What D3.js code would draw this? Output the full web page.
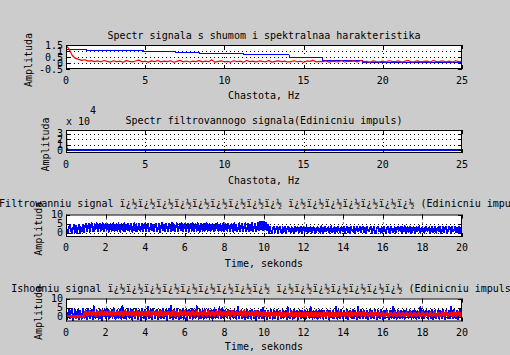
<!DOCTYPE html>
<html><head><meta charset="utf-8">
<script src="https://cdn.jsdelivr.net/npm/d3@7/dist/d3.min.js"></script>
<style>
html,body{margin:0;padding:0;background:#cccccc;}
svg{display:block;}
text{font-family:"DejaVu Sans Mono",monospace;font-size:10px;fill:#000;}
</style></head>
<body>
<svg id="c" width="510" height="355"></svg>
<script>
// ---------- DATA ----------
const titles = [
  "Spectr signala s shumom i spektralnaa harakteristika",
  "Spectr filtrovannogo signala(Edinicniu impuls)",
  "Filtrowanniu signal " + "ï¿½".repeat(9) + " " + "ï¿½".repeat(7) + " (Edinicniu impuls)",
  "Ishodniu signal " + "ï¿½".repeat(9) + " " + "ï¿½".repeat(7) + " (Edinicniu impuls)"
];
const xLabels = ["Chastota, Hz", "Chastota, Hz", "Time, sekonds", "Time, sekonds"];
const yLabel = "Amplituda";

const freqTicks = [0, 5, 10, 15, 20, 25];
const timeTicks = [0, 2, 4, 6, 8, 10, 12, 14, 16, 18, 20];
const yTicks1 = [-0.5, 0, 0.5, 1, 1.5];
const yTicks2 = [0, 1, 2, 3];
const yTicks34 = [0, 5, 10];

// spectral characteristic (blue, step) of plot 1
const hFreq = [0, 1.3, 4.9, 6.9, 8.4, 11.2, 14.1, 16.2, 18.7, 21.9, 25];
const hAmp  = [1.14, 1.02, 0.96, 0.89, 0.79, 0.67, 0.42, 0.21, 0.04, 0.01, 0.01];

// noisy spectrum (red) of plot 1, step 0.2 Hz
const specNoisy = [
 1.48,1.15,0.62,0.38,0.30,0.22,0.27,0.16,0.20,0.12,
 0.18,0.10,0.21,0.14,0.08,0.19,0.11,0.16,0.06,0.20,
 0.13,0.09,0.17,0.24,0.10,0.15,0.07,0.18,0.12,0.21,
 0.09,0.16,0.11,0.19,0.06,0.14,0.22,0.10,0.17,0.08,
 0.15,0.12,0.20,0.09,0.16,0.11,0.26,0.07,0.14,0.18,
 0.10,0.13,0.08,0.19,0.12,0.16,0.06,0.21,0.11,0.15,
 0.09,0.17,0.13,0.10,0.20,0.07,0.14,0.18,0.11,0.16,
 0.08,0.12,0.19,0.10,0.15,0.06,0.17,0.13,0.22,0.09,
 0.14,0.11,0.18,0.07,0.16,0.12,0.10,0.19,0.08,0.15,
 0.13,0.17,0.09,0.21,0.11,0.14,0.06,0.18,0.12,0.10,
 0.16,0.08,0.19,0.13,0.11,0.17,0.07,0.15,0.20,0.10,
 0.12,0.18,0.09,0.14,0.16,0.08,0.21,0.11,0.13,0.17,
 0.10,0.15,0.08,0.19,0.12,0.14];

// filtered spectrum (x 10^4) of plot 2
const spec2Freq = [0, 0.03, 0.08, 0.2, 0.5, 1, 2, 5, 10, 15, 20, 25];
const spec2Amp  = [3.6, 0.45, 0.12, 0.05, 0.02, 0.01, 0.005, 0.003, 0.002, 0.002, 0.002, 0.002];

// filtered signal (plot 3), step 0.05 s
const sigFilt = [
 4.3,0.2,-0.4,3.1,4.5,1.0,-0.6,2.4,4.1,0.3,3.6,-0.2,1.8,4.4,-0.5,2.9,0.6,4.2,-0.1,3.3,
 5.0,0.7,2.6,4.8,0.4,3.9,5.3,1.2,0.5,4.6,2.1,5.1,0.6,3.4,4.9,0.8,1.9,5.2,0.5,3.7,
 4.7,1.1,5.0,0.4,2.8,4.9,0.7,3.5,5.3,0.6,1.6,4.8,0.9,5.1,2.3,0.5,4.6,3.0,0.8,5.2,
 0.6,4.4,1.5,5.0,0.7,3.8,4.9,0.4,2.5,5.3,1.0,4.7,0.6,3.2,5.0,0.9,2.0,4.8,0.5,4.1,
 5.2,0.8,3.6,4.7,0.5,2.2,5.1,1.2,4.5,0.6,3.9,5.0,0.7,1.7,4.9,0.4,3.1,5.2,1.0,4.4,
 0.6,5.0,2.7,0.9,4.8,3.4,0.5,5.3,1.4,4.6,0.8,3.0,5.1,0.6,2.4,4.9,1.1,5.2,0.5,3.8,
 4.7,0.7,2.1,5.0,0.4,3.6,4.8,1.0,5.2,0.6,2.9,4.5,0.8,5.1,1.6,0.5,4.9,3.3,0.7,5.0,
 0.9,4.4,5.2,0.6,2.6,4.8,0.5,3.9,5.0,1.2,0.7,4.6,2.3,5.3,0.6,3.5,4.9,0.8,1.8,5.1,
 0.5,4.7,3.1,0.9,5.0,2.0,0.6,4.8,3.7,0.4,5.2,1.3,4.5,0.7,2.8,5.1,0.6,4.0,5.0,0.8,
 3.4,5.2,0.5,2.5,4.9,0.7,4.4,1.1,5.3,0.6,3.0,5.0,0.9,2.2,5.6,1.4,6.2,2.0,5.8,1.2,
 6.0,1.6,5.4,1.0,4.3,-0.2,3.1,0.8,-0.4,2.6,3.3,0.1,1.7,3.0,-0.3,2.2,3.4,0.4,-0.1,2.9,
 0.3,3.2,-0.4,1.5,3.3,0.6,2.4,-0.2,3.0,1.1,-0.3,3.4,0.5,2.0,3.1,-0.1,0.9,3.3,-0.4,2.6,
 3.0,0.2,1.8,3.4,-0.3,2.7,0.6,3.2,-0.1,1.3,3.3,0.4,-0.4,2.5,3.1,0.7,2.0,-0.2,3.4,0.9,
 -0.3,2.8,3.2,0.5,1.6,3.0,-0.2,2.3,3.4,0.1,0.8,3.1,-0.4,2.7,0.4,3.3,1.4,-0.1,3.0,2.1,
 0.6,3.4,-0.3,1.9,3.1,0.3,2.6,-0.2,3.3,1.0,0.4,3.0,-0.4,2.2,3.2,0.7,1.5,3.4,-0.1,2.8,
 3.1,0.2,2.4,-0.3,3.3,1.2,0.5,2.9,3.0,-0.2,1.7,3.4,0.4,-0.4,2.6,3.2,0.8,2.0,-0.1,3.0,
 0.3,3.3,1.6,-0.2,2.7,3.1,0.6,-0.4,3.4,2.2,0.1,1.3,3.0,-0.3,2.5,3.2,0.7,1.9,3.3,-0.1,
 2.9,0.5,3.4,-0.2,1.4,3.1,0.2,2.6,3.3,-0.4,0.9,3.0,2.1,-0.1,3.2,0.6,2.4,3.4,-0.3,1.8,
 3.1,0.4,-0.2,2.7,3.3,0.8,1.5,3.0,-0.4,2.3,3.2,0.1,0.7,3.4,-0.1,2.0,2.9,0.5,3.3,-0.3,
 1.6,3.1,0.3,2.5,3.4,-0.2,0.9,3.0,2.2,-0.4,3.2,0.6,1.3,3.3,-0.1,2.8,0.4,3.1,-0.3,2.4,
 3.2];

// noisy original signal (blue, plot 4), step 0.05 s
const sigNoisy = [
 4.2,-1.1,1.6,3.8,-0.7,2.9,4.5,-1.6,0.4,3.9,-0.9,2.2,4.1,-1.3,3.3,0.8,-1.0,4.4,1.9,-0.5,
 3.6,-1.2,4.6,0.9,-0.8,2.7,4.0,-1.4,5.9,0.2,-0.6,3.7,1.3,-1.0,4.3,2.4,-1.9,3.9,0.6,4.2,
 -0.9,2.0,4.4,-1.1,3.2,0.5,3.6,-0.7,4.8,1.5,-1.4,2.8,4.0,-0.8,0.7,4.2,-1.2,6.2,1.8,-0.9,
 3.8,-1.0,2.5,4.5,-0.6,1.1,3.9,-1.5,4.1,0.3,-0.8,4.6,2.1,-1.3,3.7,0.9,-2.0,4.3,1.4,-0.9,
 4.0,-1.1,2.6,5.7,-0.7,0.6,3.9,-1.2,4.4,1.7,-0.9,3.1,4.1,-1.4,0.2,3.8,-0.8,2.3,4.5,-1.0,
 1.0,4.0,-1.6,3.4,4.2,-0.7,6.0,0.5,-1.1,3.9,2.0,-0.9,4.3,1.2,-1.3,3.7,-0.8,2.9,4.6,-1.0,
 0.7,4.1,-1.8,3.0,4.0,-0.9,1.6,4.4,-1.1,3.8,0.4,-0.7,5.8,2.5,-1.2,4.2,-0.9,1.0,3.9,-1.4,
 4.5,0.8,-0.8,3.3,4.1,-1.0,2.2,4.0,-1.5,0.6,4.7,-0.9,3.6,1.9,-0.6,5.2,0.3,-0.8,4.9,2.7,
 -1.2,3.6,0.9,-0.7,3.9,2.0,-1.0,3.5,0.4,-0.6,3.8,1.5,-1.1,3.4,5.5,-0.8,2.4,3.7,-0.9,0.7,
 3.6,-1.3,2.1,3.9,-0.7,0.5,3.5,-1.0,3.8,1.6,-0.6,3.6,-1.7,2.6,3.4,-0.8,0.3,3.7,-0.9,5.1,
 -0.6,3.5,1.8,-1.1,3.5,0.6,-0.7,3.9,2.3,-1.0,3.6,-0.8,1.1,3.8,-1.4,2.7,3.4,-0.9,0.4,3.7,
 -0.6,2.0,3.5,-1.2,5.4,0.8,-0.8,3.6,1.5,-1.0,3.9,-0.7,2.4,3.5,-1.5,0.5,3.8,-0.9,3.4,1.7,
 -0.8,3.7,-1.1,2.2,3.6,0.3,-0.6,5.7,1.2,-1.0,3.5,-0.9,2.8,3.8,-1.3,0.7,3.6,-0.7,3.9,1.9,
 -1.0,3.4,0.6,-0.8,3.7,2.5,-1.8,3.5,0.9,-0.6,3.8,-0.9,1.4,5.5,-1.1,3.6,2.1,-0.7,3.9,0.2,
 -1.0,3.4,1.6,-0.8,3.7,-1.2,2.6,3.5,0.5,-0.6,3.8,-0.9,3.6,1.1,-1.4,5.3,0.4,-0.7,3.9,2.3,
 -1.0,3.6,0.8,-0.8,3.5,-1.1,1.9,3.8,-0.7,3.4,0.3,-0.9,3.7,2.4,-1.2,3.6,0.6,-0.6,3.9,1.5,
 -1.0,3.5,-0.8,2.8,3.7,0.7,-1.3,3.4,1.8,-0.7,5.6,-0.9,3.6,0.4,-1.1,3.8,2.2,-0.8,3.5,1.0,
 -0.6,3.9,-1.4,2.5,3.6,0.2,-0.9,3.7,1.4,-1.0,3.5,-0.7,3.8,2.0,-1.2,3.4,0.6,-0.8,5.4,1.7,
 -1.0,3.6,-0.9,2.9,3.8,0.5,-1.1,3.5,1.3,-0.7,3.9,-1.5,2.3,3.6,-0.8,0.9,3.7,-1.0,3.4,2.1,
 -0.6,3.8,0.4,-1.2,3.6,1.8,-0.9,3.5,-0.7,5.3,2.6,-1.0,3.9,0.7,-0.8,3.4,-1.1,2.2,3.7,0.3,
 3.6];

// original signal (red, plot 4), step 0.1 s
const sigOrig = [
 0.3,0.0,0.4,0.1,0.3,-0.1,0.4,0.0,0.3,0.1,
 2.6,1.0,2.7,1.1,2.5,0.9,2.6,1.0,2.8,1.1,
 2.5,1.0,2.6,0.9,2.7,1.1,2.5,1.0,2.6,0.9,
 2.8,1.0,2.5,1.1,2.6,0.9,2.7,1.0,2.5,1.1,
 2.6,0.9,2.8,1.0,2.5,1.1,2.6,1.0,2.7,0.9,
 2.5,1.1,2.6,1.0,2.8,0.9,2.5,1.0,2.6,1.1,
 2.7,1.0,2.5,0.9,2.6,1.1,2.8,1.0,2.5,0.9,
 2.6,1.0,2.7,1.1,2.5,1.0,2.6,0.9,2.8,1.1,
 2.5,1.0,2.6,0.9,2.7,1.0,2.5,1.1,2.6,1.0,
 2.8,0.9,2.5,1.1,2.6,1.0,2.7,0.9,2.5,1.0,
 2.1,0.7,2.2,0.6,2.0,0.8,2.1,0.7,2.3,0.6,
 2.0,0.7,2.1,0.8,2.2,0.6,2.0,0.7,2.1,0.8,
 2.3,0.7,2.0,0.6,2.1,0.8,2.2,0.7,2.0,0.6,
 2.1,0.8,2.3,0.7,2.0,0.6,2.1,0.7,2.2,0.8,
 2.0,0.7,2.1,0.6,2.3,0.8,2.0,0.7,2.1,0.6,
 2.2,0.7,2.0,0.8,2.1,0.6,2.3,0.7,2.0,0.8,
 2.1,0.6,2.2,0.7,2.0,0.8,2.1,0.7,2.3,0.6,
 2.0,0.7,2.1,0.8,2.2,0.6,2.0,0.7,2.1,0.8,
 2.3,0.6,2.0,0.7,2.1,0.8,2.2,0.7,2.0,0.6,
 2.1,0.7,2.3,0.8,2.0,0.6,2.1,0.7,2.2,0.8,
 2.1];

// ---------- DRAW ----------
const svg = d3.select("#c");
const X0 = 66, X1 = 462;
const panels = [
  {y0:45,  y1:69,  xd:[0,25], yd:[-0.5,1.5], xt:freqTicks, yt:yTicks1, tY:35, xtY:80, xlY:95, ylX:28},
  {y0:130, y1:153, xd:[0,25], yd:[-0.55,3.7], xt:freqTicks, yt:yTicks2, tY:120, xtY:164, xlY:180, ylX:45},
  {y0:214.5, y1:237, xd:[0,20], yd:[-2.5,10], xt:timeTicks, yt:yTicks34, tY:203, xtY:247, xlY:263, ylX:38},
  {y0:298.5, y1:321.5, xd:[0,20], yd:[-2.5,10], xt:timeTicks, yt:yTicks34, tY:288, xtY:332, xlY:346, ylX:38}
];

panels.forEach((p, i) => {
  const x = d3.scaleLinear().domain(p.xd).range([X0, X1]);
  const y = d3.scaleLinear().domain(p.yd).range([p.y1, p.y0]);
  p.x = x; p.y = y;
  const g = svg.append("g");
  p.g = g;
  g.append("rect").attr("x", X0).attr("y", p.y0).attr("width", X1 - X0).attr("height", p.y1 - p.y0)
    .attr("fill", "#fff");
  const grid = g.append("g").attr("stroke", "#000").attr("stroke-width", 1).attr("stroke-dasharray", "1,3");
  p.xt.slice(1, -1).forEach(v => {
    grid.append("line").attr("x1", Math.round(x(v)) + 0.5).attr("x2", Math.round(x(v)) + 0.5)
      .attr("y1", p.y0).attr("y2", p.y1);
  });
  p.yt.forEach(v => {
    const yy = Math.round(y(v)) + 0.5;
    if (yy > p.y0 + 1 && yy < p.y1 - 1)
      grid.append("line").attr("x1", X0).attr("x2", X1).attr("y1", yy).attr("y2", yy);
  });
  p.xt.forEach(v => {
    g.append("text").attr("x", x(v)).attr("y", p.xtY).attr("text-anchor", "middle")
      .attr("dominant-baseline", "central").text(v);
  });
  p.yt.forEach(v => {
    g.append("text").attr("x", 63).attr("y", y(v)).attr("text-anchor", "end")
      .attr("dominant-baseline", "central").text(v);
  });
  svg.append("text").attr("x", 264).attr("y", p.tY).attr("text-anchor", "middle")
    .attr("dominant-baseline", "central").text(titles[i]);
  svg.append("text").attr("x", 264).attr("y", p.xlY).attr("text-anchor", "middle")
    .attr("dominant-baseline", "central").text(xLabels[i]);
  svg.append("text").attr("transform", `translate(${p.ylX},${(p.y0 + p.y1) / 2 + 3}) rotate(-90)`)
    .attr("text-anchor", "middle").attr("dominant-baseline", "central").text(yLabel);
});

const clipIds = panels.map((p, i) => {
  const id = "clip" + i;
  svg.append("clipPath").attr("id", id).append("rect")
    .attr("x", X0).attr("y", p.y0).attr("width", X1 - X0).attr("height", p.y1 - p.y0);
  return id;
});

function drawLine(pi, xs, ys, color, w, curve, crisp) {
  const p = panels[pi];
  const line = d3.line().x((d, k) => p.x(xs[k])).y(d => p.y(d)).curve(curve || d3.curveLinear);
  const path = p.g.append("path").datum(ys).attr("d", line).attr("fill", "none").attr("stroke", color)
    .attr("stroke-width", w).attr("stroke-linejoin", "round").attr("clip-path", `url(#${clipIds[pi]})`);
  if (crisp) path.attr("shape-rendering", "crispEdges");
}
const fSteps = specNoisy.map((d, k) => k * 0.2);
const tFine = sigFilt.map((d, k) => k * 0.05);
const tCoarse = sigOrig.map((d, k) => k * 0.1);

drawLine(0, hFreq, hAmp, "#0000ff", 1, d3.curveStepAfter, true);
drawLine(0, fSteps, specNoisy, "#ff0000", 1.2);
drawLine(1, spec2Freq, spec2Amp, "#0000ff", 2);
drawLine(2, tFine, sigFilt, "#0000ff", 1.8, null, true);
drawLine(3, tFine, sigNoisy, "#0000ff", 1.8, null, true);
drawLine(3, tCoarse, sigOrig, "#ff0000", 3.2, null, true);

panels.forEach(p => {
  const g = p.g;
  const t = g.append("g").attr("stroke", "#000").attr("stroke-width", 1);
  p.xt.forEach(v => {
    const xx = Math.round(p.x(v)) + 0.5;
    t.append("line").attr("x1", xx).attr("x2", xx).attr("y1", p.y0).attr("y2", p.y0 + 4);
    t.append("line").attr("x1", xx).attr("x2", xx).attr("y1", p.y1).attr("y2", p.y1 - 4);
  });
  p.yt.forEach(v => {
    const yy = Math.round(p.y(v)) + 0.5;
    t.append("line").attr("x1", X0).attr("x2", X0 + 4).attr("y1", yy).attr("y2", yy);
    t.append("line").attr("x1", X1).attr("x2", X1 - 4).attr("y1", yy).attr("y2", yy);
  });
  g.append("rect").attr("x", X0 + 0.5).attr("y", p.y0 + 0.5).attr("width", X1 - X0 - 1).attr("height", p.y1 - p.y0 - 1)
    .attr("fill", "none").attr("stroke", "#000").attr("stroke-width", 1);
});

svg.append("text").attr("x", 66).attr("y", 121).attr("dominant-baseline", "central").text("x 10");
svg.append("text").attr("x", 90).attr("y", 110).attr("dominant-baseline", "central").text("4");
</script>
</body></html>
